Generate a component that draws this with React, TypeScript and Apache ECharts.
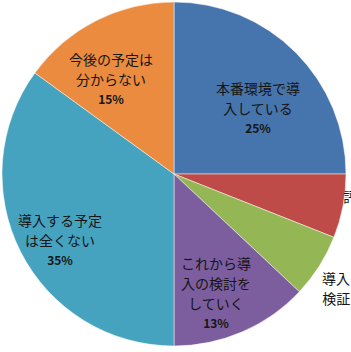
import React, { useEffect, useRef } from "react";
import * as echarts from "echarts";

const categories = [
  "本番環境で導\n入している",
  "評価している",
  "導入に向けて\n検証している",
  "これから導\n入の検討を\nしていく",
  "導入する予定\nは全くない",
  "今後の予定は\n分からない",
];
const values = [25, 6, 6, 13, 35, 15];
const colors = ["#4674AD", "#BE4B48", "#95B654", "#7C5E9E", "#46A3C0", "#EA8B40"];

// label anchor [x, y, align] in px
const labelAnchors: [number, number, string][] = [
  [258, 107, "center"],
  [385, 205, "center"],
  [364, 297, "center"],
  [216, 292, "center"],
  [60, 239, "center"],
  [111, 78, "center"],
];

export default function App() {
  const ref = useRef<HTMLDivElement>(null);
  useEffect(() => {
    if (!ref.current) return;
    const chart = echarts.init(ref.current, undefined, { renderer: "svg" });
    chart.setOption({
      animation: false,
      series: [
        {
          type: "pie",
          center: [174, 174],
          radius: 172,
          startAngle: 90,
          clockwise: true,
          avoidLabelOverlap: false,
          data: categories.map((c, i) => ({
            name: c,
            value: values[i],
            itemStyle: { color: colors[i] },
          })),
          itemStyle: { borderColor: "rgba(255,255,255,0.6)", borderWidth: 0.8 },
          label: {
            show: true,
            position: "inside",
            formatter: (p: any) => `{n|${p.name}}\n{p|${p.value}%}`,
            rich: {
              n: {
                fontFamily: "Noto Sans CJK JP",
                fontSize: 14,
                lineHeight: 20,
                color: "#151515",
              },
              p: {
                fontFamily: "Noto Sans CJK JP",
                fontSize: 12,
                fontWeight: "bold",
                lineHeight: 19,
                color: "#151515",
              },
            },
          },
          labelLine: { show: false },
          labelLayout: (params: any) => {
            const a = labelAnchors[params.dataIndex];
            return { x: a[0], y: a[1], align: a[2], verticalAlign: "middle" };
          },
          emphasis: { disabled: true },
        },
      ],
    });
    return () => chart.dispose();
  }, []);
  return (
    <div
      ref={ref}
      style={{ position: "absolute", left: 0, top: 0, width: 351, height: 352, background: "#fff" }}
    />
  );
}
